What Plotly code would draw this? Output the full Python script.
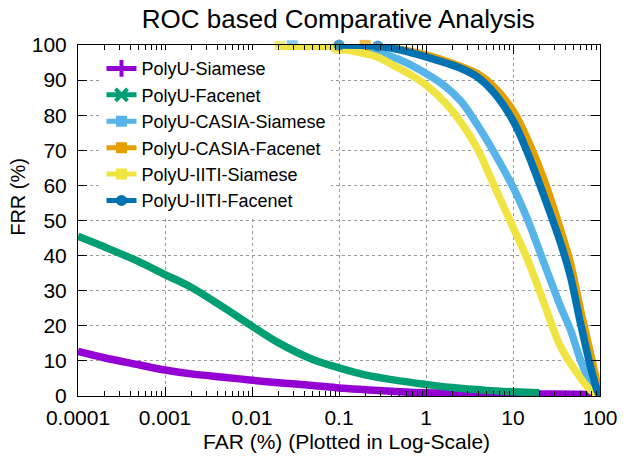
import plotly.graph_objects as go

# ---- data (FAR in %, FRR in %) ----
names = ["PolyU-Siamese", "PolyU-Facenet", "PolyU-CASIA-Siamese",
         "PolyU-CASIA-Facenet", "PolyU-IITI-Siamese", "PolyU-IITI-Facenet"]

far_siamese = [0.0001, 0.0002, 0.0005, 0.001, 0.002, 0.005, 0.01, 0.02, 0.05, 0.1,
               0.2, 0.5, 1, 2, 5, 10, 20, 50, 80, 100]
frr_siamese = [12.7, 10.9, 8.9, 7.4, 6.3, 5.3, 4.5, 3.8, 3.0, 2.3,
               1.8, 1.2, 0.9, 0.8, 0.7, 0.7, 0.6, 0.5, 0.4, 0.3]

far_facenet = [0.0001, 0.0002, 0.0005, 0.001, 0.002, 0.005, 0.01, 0.02, 0.05, 0.1,
               0.2, 0.5, 1, 2, 5, 10, 20]
frr_facenet = [45.5, 42.5, 38.3, 34.6, 31.0, 24.8, 19.9, 15.2, 10.4, 8.0,
               6.0, 4.3, 3.3, 2.4, 1.6, 1.2, 0.9]

far_casia_siamese = [0.029, 0.07, 0.15, 0.28, 0.5, 1, 1.63, 2.54, 3.93, 6.1,
                     10.3, 14.7, 22.7, 35.2, 45.7, 59.6, 77.6, 100]
frr_casia_siamese = [99.8, 99.6, 99.0, 97.9, 95.8, 91.9, 88.4, 83.9, 77.1, 69.3,
                     58.9, 50.3, 37.9, 25.5, 18.9, 10.3, 3.7, 0]

far_casia_facenet = [0.1, 0.2, 0.3, 0.5, 1, 2, 3.93, 6.1, 10.3, 14.7,
                     22.7, 35.2, 45.7, 59.6, 77.6, 96.6, 100]
frr_casia_facenet = [100, 99.9, 99.7, 98.8, 97.2, 94.8, 91.8, 88.0, 80.8, 73.1,
                     61.7, 47.4, 37.9, 24.6, 12.2, 1.7, 0]

far_iiti_siamese = [0.021, 0.05, 0.1, 0.17, 0.28, 0.4, 0.7, 1, 1.63, 2.54,
                    3.93, 6.1, 10.3, 14.7, 22.7, 35.2, 54.6, 77.6, 100]
frr_iiti_siamese = [99.6, 99.5, 99.0, 97.9, 96.5, 94.5, 91.2, 88.6, 83.8, 77.9,
                    70.3, 59.8, 47.4, 38.9, 26.5, 14.1, 6.5, 1.7, 0]

far_iiti_facenet = [0.1, 0.2, 0.28, 0.5, 1, 2.54, 3.93, 6.1, 10.3, 14.7,
                    22.7, 35.2, 45.7, 59.6, 77.6, 92.5, 100]
frr_iiti_facenet = [100, 99.9, 99.7, 98.6, 96.6, 93.3, 90.8, 86.3, 77.9, 69.3,
                    57.0, 43.6, 34.1, 20.8, 8.4, 1.7, 0]

x_ticks = [0.0001, 0.001, 0.01, 0.1, 1, 10, 100]
x_ticklabels = ["0.0001", "0.001", "0.01", "0.1", "1", "10", "100"]
y_ticks = [0, 10, 20, 30, 40, 50, 60, 70, 80, 90, 100]

# ---- styles ----
colors = ["#9400d3", "#009e73", "#56b4e9", "#e69f00", "#f0e442", "#0072b2"]
symbols = ["cross-thin", "x-thin", "square", "square", "square", "circle"]
series = [(far_siamese, frr_siamese), (far_facenet, frr_facenet),
          (far_casia_siamese, frr_casia_siamese), (far_casia_facenet, frr_casia_facenet),
          (far_iiti_siamese, frr_iiti_siamese), (far_iiti_facenet, frr_iiti_facenet)]
marker_idx = [[], [], [0], [1], [0, 2], [0, 2]]

fig = go.Figure()
for i, (xs, ys) in enumerate(series):
    sizes = [11 if k in marker_idx[i] else 0 for k in range(len(xs))]
    fig.add_trace(go.Scatter(
        x=xs, y=ys, mode="lines+markers", showlegend=False, cliponaxis=False,
        line=dict(color=colors[i], width=7.5, shape="spline", smoothing=0.9),
        marker=dict(color=colors[i], size=sizes, symbol=symbols[i],
                    line=dict(color=colors[i], width=0)),
        hoverinfo="skip"))

for i, nm in enumerate(names):
    fig.add_trace(go.Scatter(
        x=[None], y=[None], mode="lines+markers", name=nm,
        line=dict(color=colors[i], width=5),
        marker=dict(color=colors[i], size=12 if i < 2 else 11, symbol=symbols[i],
                    line=dict(color=colors[i], width=4 if i < 2 else 0))))

grid = dict(showgrid=True, gridcolor="#9a9a9a", gridwidth=1, griddash="3px,3px")

fig.update_xaxes(type="log", range=[-4, 2], tickvals=x_ticks, ticktext=x_ticklabels,
                 ticks="inside", ticklen=9, tickcolor="black", showline=True,
                 linecolor="black", linewidth=1, mirror="ticks", zeroline=False,
                 ticklabelstandoff=3,
                 tickfont=dict(size=21, color="black", family="Liberation Sans"),
                 minor=dict(ticks="inside", ticklen=5, tickcolor="black", dtick="D1",
                            showgrid=False),
                 **grid)
fig.update_yaxes(range=[0, 100], tickvals=y_ticks, ticks="inside", ticklen=9,
                 tickcolor="black", showline=True, linecolor="black", linewidth=1,
                 mirror="ticks", zeroline=False, ticklabelstandoff=6,
                 tickfont=dict(size=21, color="black", family="Liberation Sans"),
                 **grid)

fig.update_layout(
    width=630, height=457, autosize=False,
    margin=dict(l=78, r=27, t=45, b=61),
    paper_bgcolor="white", plot_bgcolor="white",
    font=dict(family="Liberation Sans", color="black"),
    title=dict(text="ROC based Comparative Analysis", font=dict(size=26, color="black"),
               xref="container", x=0.537, xanchor="center",
               yref="container", y=1 - 19 / 457, yanchor="middle"),
    legend=dict(x=0.045, y=0.985, xanchor="left", yanchor="top",
                bgcolor="white", borderwidth=0, tracegroupgap=0,
                font=dict(size=18, color="black", family="Liberation Sans")),
    annotations=[
        dict(text="FAR (%) (Plotted in Log-Scale)", xref="paper", yref="paper",
             x=0.515, y=-45 / 351, xanchor="center", yanchor="middle",
             showarrow=False, font=dict(size=21, color="black")),
        dict(text="FRR (%)", xref="paper", yref="paper", textangle=-90,
             x=-60.5 / 525, y=0.567, xanchor="center", yanchor="middle",
             showarrow=False, font=dict(size=20, color="black")),
    ],
)

fig.write_html("out.html")
